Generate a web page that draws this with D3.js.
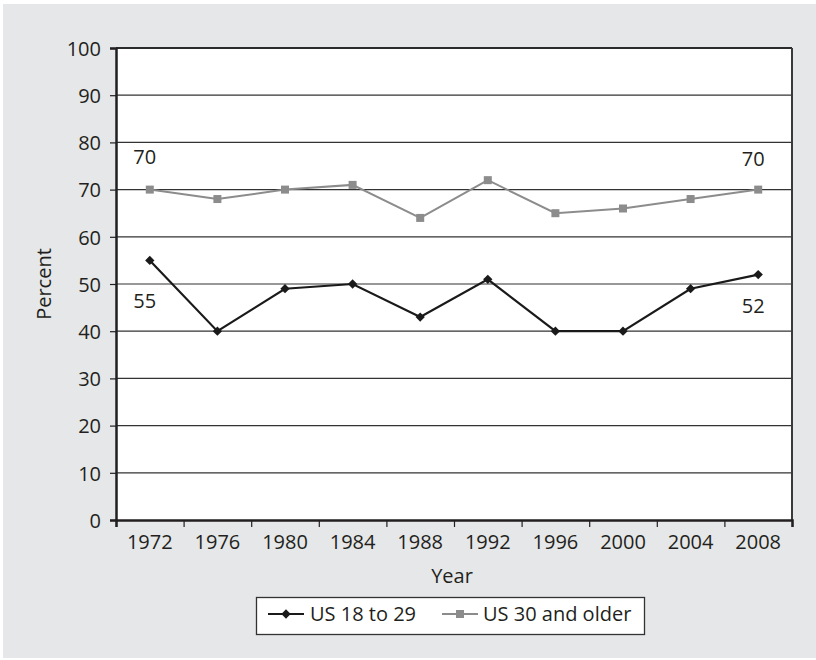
<!DOCTYPE html>
<html lang="en">
<head>
<meta charset="utf-8">
<title>Percent by year</title>
<style>
  body { margin: 0; background: #fff; }
  text { font-family: "Open Sans", "Noto Sans", sans-serif; fill: #231f20; }
</style>
</head>
<body>
<svg id="chart" width="816" height="660"></svg>
<script src="https://d3js.org/d3.v7.min.js"></script>
<script>
  const years = ["1972", "1976", "1980", "1984", "1988", "1992", "1996", "2000", "2004", "2008"]
  const young = [55, 40, 49, 50, 43, 51, 40, 40, 49, 52]
  const older = [70, 68, 70, 71, 64, 72, 65, 66, 68, 70]
  const yTicks = [0, 10, 20, 30, 40, 50, 60, 70, 80, 90, 100]
  const seriesNames = ["US 18 to 29", "US 30 and older"]

  let svg = d3.select("#chart")

  // grey backdrop
  svg.append("rect")
      .attr("x", 3).attr("y", 4)
      .attr("width", 813).attr("height", 654)
      .attr("fill", "#e6e7e8")

  let plotL = 116, plotR = 792, plotT = 48, plotB = 520

  let x = d3.scaleBand().domain(years).range([plotL, plotR])
  let y = d3.scaleLinear().domain([0, 100]).range([plotB, plotT])
  let cx = d => x(d) + x.bandwidth() / 2

  svg.append("rect")
      .attr("x", plotL).attr("y", plotT)
      .attr("width", plotR - plotL).attr("height", plotB - plotT)
      .attr("fill", "#fff")

  // gridlines
  svg.append("g")
      .selectAll("line")
      .data(yTicks.filter(d => d > 0 && d < 100))
      .join("line")
      .attr("x1", plotL).attr("x2", plotR)
      .attr("y1", d => y(d)).attr("y2", d => y(d))
      .attr("stroke", "#333")
      .attr("stroke-width", 1.2)

  // frame top + right
  svg.append("line").attr("x1", plotL).attr("x2", plotR).attr("y1", plotT).attr("y2", plotT)
      .attr("stroke", "#2b2b2b").attr("stroke-width", 2)
  svg.append("line").attr("x1", plotR).attr("x2", plotR).attr("y1", plotT).attr("y2", plotB)
      .attr("stroke", "#3a3a3a").attr("stroke-width", 2)

  // y axis
  let yAxis = d3.axisLeft(y).tickValues(yTicks).tickSize(6).tickPadding(9)
  let gy = svg.append("g").attr("transform", `translate(${plotL},0)`).call(yAxis)
  gy.select(".domain").attr("stroke", "#231f20").attr("stroke-width", 2.5)
  gy.selectAll(".tick line").attr("stroke", "#231f20").attr("stroke-width", 1.2)
  gy.selectAll("text").style("font-size", "20px").attr("dy", "0.36em")

  // x axis: ticks on band edges
  let xEdge = d3.scaleLinear().domain([0, years.length]).range([plotL, plotR])
  let gx = svg.append("g").attr("transform", `translate(0,${plotB})`)
      .call(d3.axisBottom(xEdge).ticks(years.length).tickSize(7).tickFormat(""))
  gx.select(".domain").attr("stroke", "#231f20").attr("stroke-width", 2.5)
  gx.selectAll(".tick line").attr("stroke", "#231f20").attr("stroke-width", 1.2)

  svg.append("g")
      .selectAll("text")
      .data(years)
      .join("text")
      .attr("x", d => cx(d))
      .attr("y", 549)
      .attr("text-anchor", "middle")
      .style("font-size", "20px")
      .text(d => d)

  // axis titles
  svg.append("text")
      .attr("transform", "translate(51,284) rotate(-90)")
      .attr("text-anchor", "middle")
      .style("font-size", "20px")
      .text("Percent")
  svg.append("text")
      .attr("x", 452).attr("y", 583)
      .attr("text-anchor", "middle")
      .style("font-size", "20px")
      .text("Year")

  let line = d3.line().x((d, i) => cx(years[i])).y(d => y(d))

  // older series
  svg.append("path").datum(older)
      .attr("d", line).attr("fill", "none")
      .attr("stroke", "#8c8c8c").attr("stroke-width", 2)
  svg.append("g").selectAll("rect").data(older).join("rect")
      .attr("x", (d, i) => cx(years[i]) - 4)
      .attr("y", d => y(d) - 4)
      .attr("width", 8).attr("height", 8)
      .attr("fill", "#8c8c8c")

  // young series
  svg.append("path").datum(young)
      .attr("d", line).attr("fill", "none")
      .attr("stroke", "#1a1a1a").attr("stroke-width", 2.2)
  let diamond = d3.symbol().type(d3.symbolDiamond2).size(55)
  svg.append("g").selectAll("path").data(young).join("path")
      .attr("d", diamond)
      .attr("transform", (d, i) => `translate(${cx(years[i])},${y(d)})`)
      .attr("fill", "#1a1a1a")

  // end labels
  let labels = [
    {year: "1972", v: older[0], dy: -26},
    {year: "1972", v: young[0], dy: 48},
    {year: "2008", v: older[9], dy: -24},
    {year: "2008", v: young[9], dy: 38}
  ]
  svg.append("g").selectAll("text").data(labels).join("text")
      .attr("x", d => cx(d.year) - 5)
      .attr("y", d => y(d.v) + d.dy)
      .attr("text-anchor", "middle")
      .style("font-size", "20px")
      .text(d => d.v)

  // legend
  let lg = svg.append("g")
  lg.append("rect")
      .attr("x", 256.5).attr("y", 597.5)
      .attr("width", 388).attr("height", 37)
      .attr("fill", "#fff").attr("stroke", "#333").attr("stroke-width", 1.3)
  let ly = 614
  lg.append("line").attr("x1", 268).attr("x2", 304).attr("y1", ly).attr("y2", ly)
      .attr("stroke", "#1a1a1a").attr("stroke-width", 2.2)
  lg.append("path").attr("d", diamond).attr("transform", `translate(286,${ly})`).attr("fill", "#1a1a1a")
  lg.append("text").attr("x", 310).attr("y", ly + 7).style("font-size", "20px").text(seriesNames[0])
  lg.append("line").attr("x1", 442).attr("x2", 478).attr("y1", ly).attr("y2", ly)
      .attr("stroke", "#8c8c8c").attr("stroke-width", 2)
  lg.append("rect").attr("x", 456).attr("y", ly - 4).attr("width", 8).attr("height", 8).attr("fill", "#8c8c8c")
  lg.append("text").attr("x", 483).attr("y", ly + 7).style("font-size", "20px").text(seriesNames[1])
</script>
</body>
</html>
